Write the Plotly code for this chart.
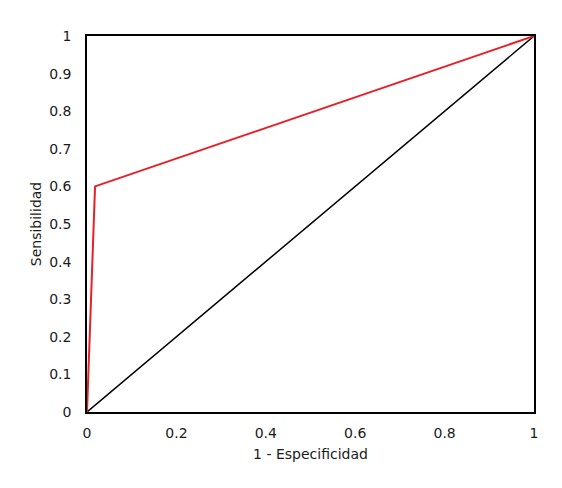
import plotly.graph_objects as go

roc_x = [0, 0.018, 1]
roc_y = [0, 0.6, 1]
ref_x = [0, 1]
ref_y = [0, 1]
ticks = [0, 0.2, 0.4, 0.6, 0.8, 1]
yticks = [0, 0.1, 0.2, 0.3, 0.4, 0.5, 0.6, 0.7, 0.8, 0.9, 1]

fig = go.Figure()
fig.add_trace(go.Scatter(x=ref_x, y=ref_y, mode="lines",
                         line=dict(color="#000000", width=1.5), showlegend=False))
fig.add_trace(go.Scatter(x=roc_x, y=roc_y, mode="lines",
                         line=dict(color="#e8202a", width=2), showlegend=False))

tickfont = dict(family="DejaVu Sans", size=14, color="#1a1a1a")
titlefont = dict(family="DejaVu Sans", size=14, color="#1a1a1a")
fig.update_layout(
    width=562, height=488,
    margin=dict(l=79, r=36, t=28, b=84),
    paper_bgcolor="white", plot_bgcolor="white",
    font=dict(family="DejaVu Sans", size=14, color="#1a1a1a"),
    xaxis=dict(range=[0, 1], tickvals=ticks, ticktext=[str(t) for t in ticks],
               tickfont=tickfont,
               showgrid=False, zeroline=False, showline=True, linecolor="black",
               linewidth=1.5, mirror=True, ticks="outside", ticklen=7,
               tickcolor="rgba(0,0,0,0)",
               title=dict(text="1 - Especificidad", font=titlefont, standoff=10)),
    yaxis=dict(range=[0, 1], tickvals=yticks, ticktext=[str(t) for t in yticks],
               tickfont=tickfont,
               showgrid=False, zeroline=False, showline=True, linecolor="black",
               linewidth=1.5, mirror=True, ticks="outside", ticklen=11,
               tickcolor="rgba(0,0,0,0)",
               title=dict(text="Sensibilidad", font=titlefont, standoff=4)),
)
fig.write_html("out.html")
